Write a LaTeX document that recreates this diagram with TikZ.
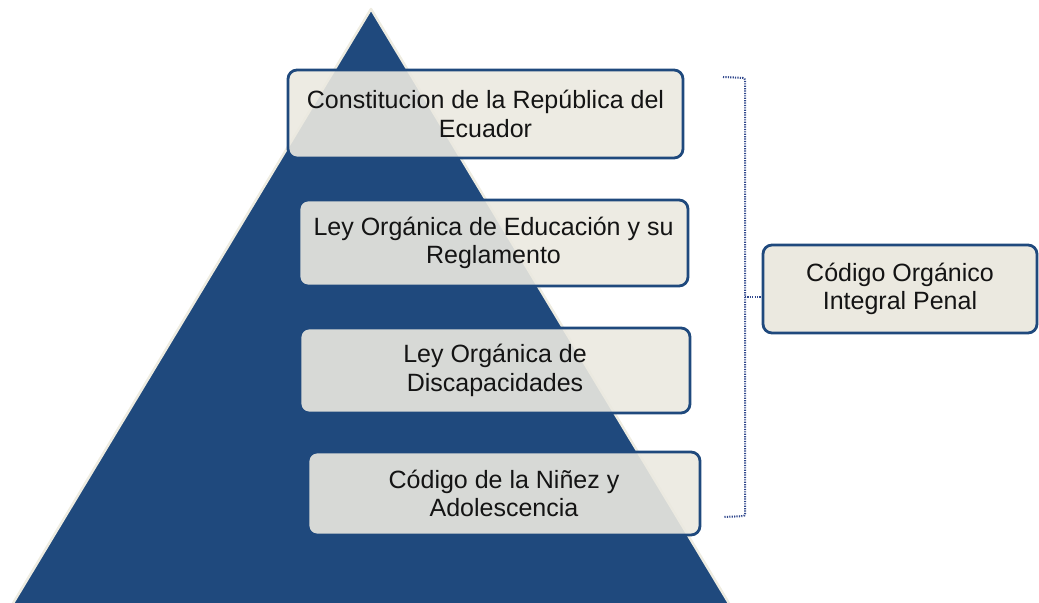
\documentclass[tikz,border=0pt]{standalone}
\usepackage{fontspec}
\setmainfont{Liberation Sans}
\usepackage{xcolor}
\usepackage{tikz}

\begin{document}
\begin{tikzpicture}[x = 1bp,
                    y = -1bp,
                    font = \fontsize{25bp}{28.5bp}\selectfont]

  \useasboundingbox (0,0) rectangle (1039,603);

  % COLORS
  \definecolor{pyramidcolor_p}{rgb}{ 0.1216,0.2863,0.4902 }
  \definecolor{rimcolor_p}{rgb}{ 0.9333,0.9255,0.8824 }
  \definecolor{boxcolor_p}{rgb}{ 0.9216,0.9137,0.8784 }
  \definecolor{bracecolor_p}{rgb}{ 0.1843,0.2784,0.5490 }
  \definecolor{textcolor_p}{rgb}{ 0.08,0.08,0.08 }


  % DEF POINTS
  \coordinate (v0_p) at (371, 9);
  \coordinate (v1_p) at (9, 610);
  \coordinate (v2_p) at (733, 610);


  % PYRAMID
  \draw[fill=pyramidcolor_p, draw=rimcolor_p, line width=2.5bp, line join=round] (v0_p) -- (v1_p) -- (v2_p) -- cycle;


  % BOXES STYLE
  \tikzstyle{boxstyle_p} = [fill=boxcolor_p, fill opacity=0.9, text opacity=1, text=textcolor_p, draw=pyramidcolor_p, line width=2.8bp, rounded corners=9bp, align=center, inner sep=0pt]


  % BOXES
  \node[boxstyle_p, minimum width=395bp, minimum height=88bp] (constitucion) at (485.5, 114) {Constitucion de la República del\\Ecuador};
  \node[boxstyle_p, minimum width=389bp, minimum height=86bp] (educacion) at (493.5, 243) {Ley Orgánica de Educación y su\\Reglamento};
  \node[boxstyle_p, minimum width=390bp, minimum height=85bp] (discapacidades) at (495, 370.5) {Ley Orgánica de\\Discapacidades};
  \node[boxstyle_p, minimum width=392bp, minimum height=83bp] (ninez) at (504, 493.5) {Código de la Niñez y\\Adolescencia};
  \node[boxstyle_p, fill opacity=1, minimum width=274bp, minimum height=88bp] (penal) at (900, 289) {Código Orgánico\\Integral Penal};


  % BRACE
  \tikzstyle{bracestyle_p} = [draw=bracecolor_p, line width=2bp, dash pattern=on 1.2bp off 1.2bp, rounded corners=2bp]

  \coordinate (b0_p) at (723, 77);
  \coordinate (b1_p) at (745, 78);
  \coordinate (b2_p) at (745, 516);
  \coordinate (b3_p) at (724, 517);
  \coordinate (b4_p) at (745, 297);

  \draw[bracestyle_p] (b0_p) -- (b1_p) -- (b2_p) -- (b3_p);
  \draw[bracestyle_p] (b4_p) -- (penal.west |- b4_p);

\end{tikzpicture}
\end{document}
